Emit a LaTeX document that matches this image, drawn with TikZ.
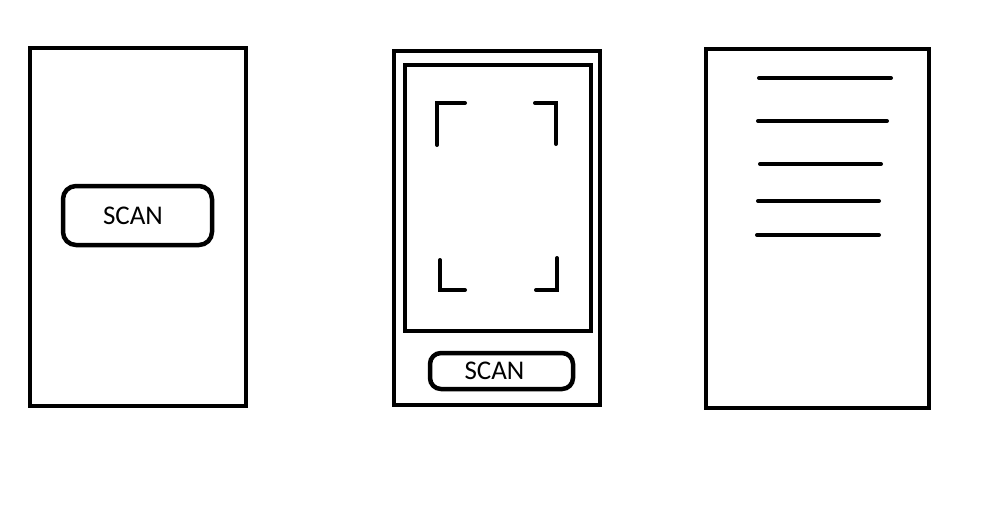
\documentclass[tikz,border=0pt]{standalone}
\usepackage{fontspec}
\setmainfont{Carlito}
\begin{document}
\begin{tikzpicture}[x=1pt,y=-1pt,
  frame/.style={draw=black,line width=4pt,inner sep=0pt,fill=none},
  btn/.style={draw=black,line width=4.5pt,rounded corners=13pt,inner sep=0pt,
    font=\fontsize{27}{30}\selectfont},
  stroke/.style={line width=4pt,line cap=round}]
\useasboundingbox (0,0) rectangle (1004,514);
% phone 1
\node[frame,minimum width=216pt,minimum height=358pt] (p1) at (138,227) {};
\node[btn,minimum width=149pt,minimum height=59pt] (b1) at (137.5,215.5) {\hspace*{-9pt}SCAN};
% phone 2
\node[frame,minimum width=206pt,minimum height=354pt] (p2) at (497,227.5) {};
\node[frame,minimum width=186pt,minimum height=266pt] (s2) at (498,198) {};
\node[btn,minimum width=143pt,minimum height=36pt,rounded corners=11pt] (b2) at (501.5,371) {\hspace*{-14pt}SCAN};
\coordinate (tl) at (437,103);
\coordinate (tr) at (556,103);
\coordinate (bl) at (440,290);
\coordinate (br) at (557,290);
\draw[stroke] ([xshift=28pt]tl) -- (tl) -- ([yshift=-42pt]tl);
\draw[stroke] ([xshift=-21pt]tr) -- (tr) -- ([yshift=-41pt]tr);
\draw[stroke] ([yshift=30pt]bl) -- (bl) -- ([xshift=25pt]bl);
\draw[stroke] ([yshift=32pt]br) -- (br) -- ([xshift=-21pt]br);
% phone 3
\node[frame,minimum width=223pt,minimum height=359pt] (p3) at (817,228) {};
\coordinate (l1a) at (759,78);  \coordinate (l1b) at (891,78);
\coordinate (l2a) at (758,121); \coordinate (l2b) at (887,121);
\coordinate (l3a) at (760,164); \coordinate (l3b) at (881,164);
\coordinate (l4a) at (758,201); \coordinate (l4b) at (879,201);
\coordinate (l5a) at (757,235); \coordinate (l5b) at (879,235);
\draw[stroke] (l1a) -- (l1b);
\draw[stroke] (l2a) -- (l2b);
\draw[stroke] (l3a) -- (l3b);
\draw[stroke] (l4a) -- (l4b);
\draw[stroke] (l5a) -- (l5b);
\end{tikzpicture}
\end{document}
